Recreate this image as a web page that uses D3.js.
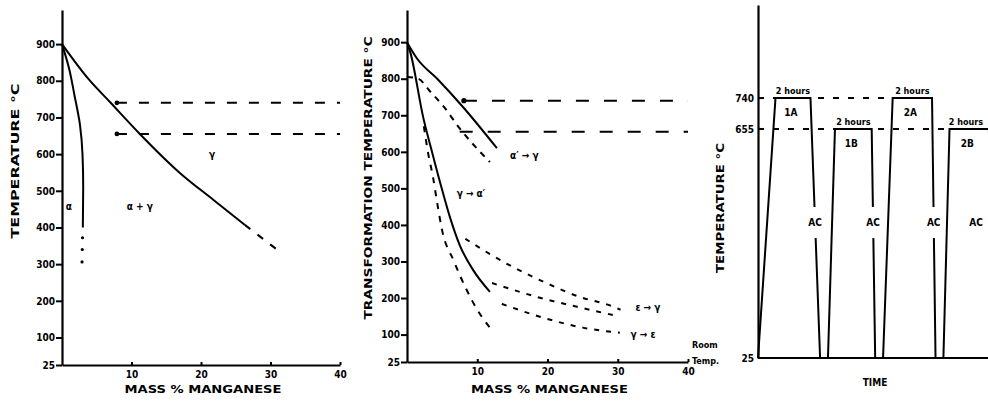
<!DOCTYPE html>
<html>
<head>
<meta charset="utf-8">
<script src="https://cdn.jsdelivr.net/npm/d3@7"></script>
<style>
  body { margin: 0; background: #fff; }
  text { font-family: "DejaVu Sans Condensed", "DejaVu Sans", sans-serif; font-weight: bold; fill: #000; }
</style>
</head>
<body>
<script>

// Tick values
var massTicks = [10, 20, 30, 40];
var tempTicks = [25, 100, 200, 300, 400, 500, 600, 700, 800, 900];
var heatTicks = [25, 655, 740];
var holdTemps = [740, 655];

// Panel 1: Fe-Mn equilibrium diagram (mass %, temperature)
var gammaLine = [[0, 900], [3.8, 805], [7.0, 740], [11.2, 655], [17, 548], [21.8, 475], [26.3, 407]];
var gammaExtra = [[26.3, 407], [31.4, 333]];
var alphaLine = [[0, 900], [1.0, 835], [1.8, 760], [2.6, 678], [2.95, 600], [3.05, 510], [3.0, 400]];
var alphaDots = [[2.95, 372], [2.92, 340], [2.88, 306]];
var holdStart1 = 7.9;
var labels1 = [
    {text: 'α', x: 1.0, t: 456},
    {text: 'α + γ', x: 11.2, t: 456},
    {text: 'γ', x: 21.6, t: 598}
];

// Panel 2: transformation temperatures on heating and cooling
var revSolid = [[0, 900], [1.4, 856], [4.3, 800], [8.0, 722], [12.8, 610]];
var revDashed = [[0, 805], [1.6, 800], [3.3, 765], [5.3, 722], [7.5, 664], [10.4, 600], [11.8, 572]];
var fwdSolid = [[0, 900], [0.5, 870], [2.3, 695], [3.6, 597], [5.0, 496], [6.1, 422], [7.5, 345], [9.4, 277], [11.8, 217]];
var fwdDashed = [[2.4, 670], [3.0, 597], [3.7, 531], [4.3, 460], [5.0, 385], [6.6, 304], [8.5, 222], [10, 168], [11.8, 119]];
var epsRevA = [[8.3, 362], [14, 296], [19.5, 244], [24.6, 203], [29, 179], [30.4, 168]];
var epsRevB = [[12.1, 241], [18.5, 203], [24.2, 176], [29.9, 151]];
var epsFwd = [[13.5, 184], [18.9, 149], [25, 119], [30.3, 105]];
var holdStart2 = [8.1, 7.5];
var labels2 = [
    {text: 'α\u2032 → γ', x: 16.7, t: 591},
    {text: 'γ → α\u2032', x: 9.1, t: 487},
    {text: 'ε → γ', x: 34.3, t: 175},
    {text: 'γ → ε', x: 33.6, t: 99}
];

// Panel 3: heat treatment cycles (time in hours, temperature)
var cycleNames = ['1A', '1B', '2A', '2B'];
var cycleTemps = [740, 655, 740, 655];
var cycleTimes = [[0, 1.0, 3.0, 3.55], [4.0, 4.4, 6.5, 6.7], [7.15, 7.7, 9.95, 10.15], [10.6, 10.95, 13.2, 13.45]];
var holdEnd3 = [7.7, 10.95];


var svg = d3.select('body').append('svg')
    .attr('width', 988)
    .attr('height', 407);

// Scales for each panel
var x1 = d3.scaleLinear([0, 40], [62, 340]);
var y1 = d3.scaleLinear([25, 993], [365, 10]);
var x2 = d3.scaleLinear([0, 40], [407, 688]);
var y2 = d3.scaleLinear([25, 988], [362, 10]);
var x3 = d3.scaleLinear([0, 13.15], [758, 988]);
var y3 = d3.scaleLinear([25, 996], [358, 5]);

function drawPath(pts, x, y, dash, curve, width) {
    var line = d3.line()
        .x(function(d){ return x(d[0]); })
        .y(function(d){ return y(d[1]); })
        .curve(curve || d3.curveMonotoneX);
    svg.append('path')
        .attr('d', line(pts))
        .attr('fill', 'none')
        .attr('stroke', '#000')
        .attr('stroke-width', width || 2)
        .attr('stroke-dasharray', dash || null);
}

function styleAxis(g) {
    g.select('.domain').attr('stroke-width', 2.2);
    g.selectAll('.tick line').attr('stroke-width', 2);
    g.selectAll('.tick text')
        .attr('font-size', 10)
        .attr('font-family', '"DejaVu Sans Condensed", sans-serif')
        .attr('font-weight', 'bold');
}

function massAxes(x, y, yTitle, titleLen, titleX, titleY) {
    var gy = svg.append('g')
        .attr('transform', `translate(${x(0)},0)`)
        .call(d3.axisLeft(y).tickValues(tempTicks).tickSize(6).tickSizeOuter(0).tickPadding(1));
    styleAxis(gy);

    var gx = svg.append('g')
        .attr('transform', `translate(0,${y(25)})`)
        .call(d3.axisBottom(x).tickValues(massTicks).tickSize(-3).tickSizeOuter(0).tickPadding(6));
    styleAxis(gx);

    svg.append('text')
        .attr('x', (x(0) + x(40)) / 2 + 2)
        .attr('y', 393)
        .attr('text-anchor', 'middle')
        .attr('font-size', 11)
        .attr('textLength', 157)
        .attr('lengthAdjust', 'spacingAndGlyphs')
        .text('MASS % MANGANESE');

    svg.append('text')
        .attr('transform', `translate(${titleX},${titleY}) rotate(-90)`)
        .attr('text-anchor', 'middle')
        .attr('dy', '0.35em')
        .attr('font-size', 11)
        .attr('textLength', titleLen)
        .attr('lengthAdjust', 'spacingAndGlyphs')
        .text(yTitle);
}

function addLabels(list, x, y) {
    list.forEach(function(l){
        svg.append('text')
            .attr('x', x(l.x))
            .attr('y', y(l.t))
            .attr('dy', '0.35em')
            .attr('text-anchor', 'middle')
            .attr('font-size', 10)
            .text(l.text);
    });
}

// ---- Panel 1 ----
massAxes(x1, y1, 'TEMPERATURE °C', 155, 15, 161);

holdTemps.forEach(function(t){
    drawPath([[holdStart1, t], [40, t]], x1, y1, '10,12', d3.curveLinear);
    svg.append('circle').attr('cx', x1(holdStart1)).attr('cy', y1(t)).attr('r', 2.4);
});
drawPath(gammaLine, x1, y1);
drawPath(gammaExtra, x1, y1, '7,9', d3.curveLinear);
drawPath(alphaLine, x1, y1, null, d3.curveMonotoneY);
svg.selectAll('.adot').data(alphaDots).enter().append('circle')
    .attr('cx', function(d){ return x1(d[0]); })
    .attr('cy', function(d){ return y1(d[1]); })
    .attr('r', 1.6);
addLabels(labels1, x1, y1);

// ---- Panel 2 ----
massAxes(x2, y2, 'TRANSFORMATION TEMPERATURE °C', 283, 368, 178);

holdTemps.forEach(function(t, i){
    drawPath([[holdStart2[i], t], [40, t]], x2, y2, '13,15', d3.curveLinear);
});
svg.append('circle').attr('cx', x2(holdStart2[0])).attr('cy', y2(740)).attr('r', 2.6);
drawPath(revSolid, x2, y2);
drawPath(revDashed, x2, y2, '6,6');
drawPath(fwdSolid, x2, y2);
drawPath(fwdDashed, x2, y2, '6,7');
drawPath(epsRevA, x2, y2, '5,7');
drawPath(epsRevB, x2, y2, '5,7');
drawPath(epsFwd, x2, y2, '5,7');
addLabels(labels2, x2, y2);

svg.append('text').attr('x', x2(40) + 4).attr('y', y2(25) - 14).attr('font-size', 9).text('Room');
svg.append('text').attr('x', x2(40) + 4).attr('y', y2(25) + 2).attr('font-size', 9).text('Temp.');

// ---- Panel 3 ----
holdTemps.forEach(function(t, i){
    drawPath([[0, t], [holdEnd3[i], t]], x3, y3, '6,9', d3.curveLinear);
});

cycleNames.forEach(function(name, i){
    var ts = cycleTimes[i], temp = cycleTemps[i];
    var pts = [[ts[0], 25], [ts[1], temp], [ts[2], temp], [ts[3], 25]];
    drawPath(pts, x3, y3, null, d3.curveLinear, 2);

    var mid = (ts[1] + ts[2]) / 2;
    svg.append('text')
        .attr('x', Math.min(x3(mid), 966)).attr('y', y3(temp) - 4)
        .attr('text-anchor', 'middle').attr('font-size', 9)
        .text('2 hours');
    svg.append('text')
        .attr('x', x3(mid) - 2).attr('y', y3(temp) + 18)
        .attr('text-anchor', 'middle').attr('font-size', 10)
        .text(name);

    // air cooling label breaks the cooling line
    var acTemp = 399;
    var tAc = ts[2] + (ts[3] - ts[2]) * (temp - acTemp) / (temp - 25);
    var acX = Math.min(x3(tAc), 976);
    svg.append('rect')
        .attr('x', acX - 9).attr('y', y3(acTemp) - 15)
        .attr('width', 18).attr('height', 31)
        .attr('fill', '#fff');
    svg.append('text')
        .attr('x', acX).attr('y', y3(acTemp))
        .attr('dy', '0.35em')
        .attr('text-anchor', 'middle').attr('font-size', 10)
        .text('AC');
});

var gy3 = svg.append('g')
    .attr('transform', `translate(${x3(0)},0)`)
    .call(d3.axisLeft(y3).tickValues(heatTicks).tickSize(0).tickSizeOuter(0).tickPadding(4));
styleAxis(gy3);

svg.append('line')
    .attr('x1', x3(0)).attr('x2', 988)
    .attr('y1', y3(25)).attr('y2', y3(25))
    .attr('stroke', '#000').attr('stroke-width', 2.2);

svg.append('text')
    .attr('transform', 'translate(720,208) rotate(-90)')
    .attr('text-anchor', 'middle').attr('dy', '0.35em')
    .attr('font-size', 11)
    .attr('textLength', 130).attr('lengthAdjust', 'spacingAndGlyphs')
    .text('TEMPERATURE °C');

svg.append('text')
    .attr('x', 875).attr('y', 386)
    .attr('text-anchor', 'middle').attr('font-size', 10)
    .text('TIME');

</script>
</body>
</html>
